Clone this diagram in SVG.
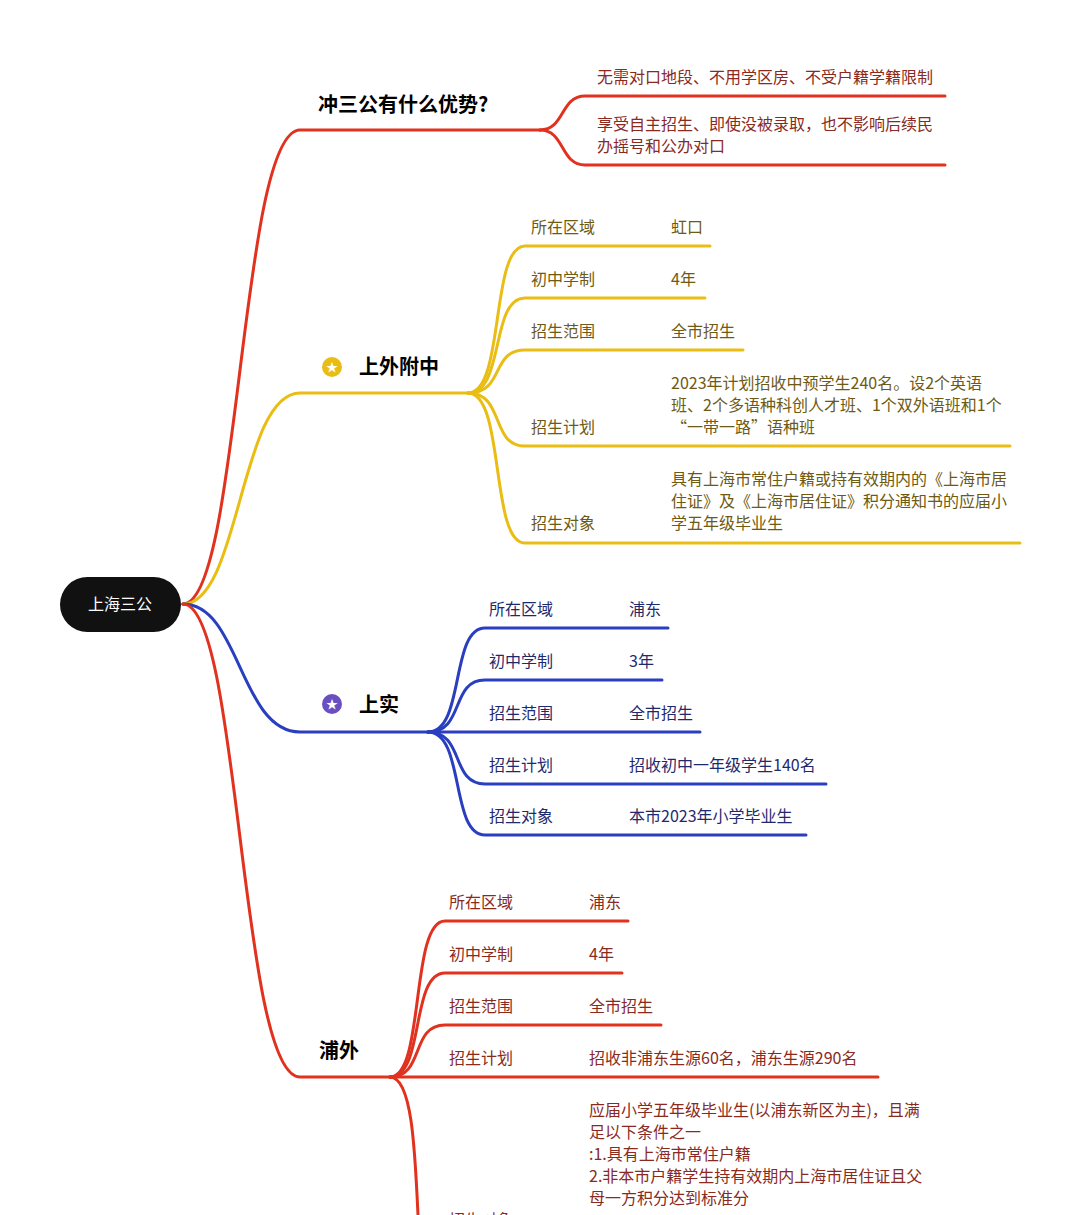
<svg xmlns="http://www.w3.org/2000/svg" width="1080" height="1215" viewBox="0 0 1080 1215">
<style>
.c{fill:none;stroke-width:3;stroke-linecap:round}
.r{stroke:#e0321e}.y{stroke:#eabd14}.b{stroke:#2a3fbf}
text{font-family:"Noto Sans CJK SC","Noto Sans",sans-serif}
.t{font-size:16px}
.tr{fill:#8a2a1e}.ty{fill:#6e5a12}.tb{fill:#1f2a6e}
.h{font-size:20px;font-weight:bold;fill:#000}
</style>
<rect width="1080" height="1215" fill="#fff"/>
<g id="connectors">
<path class="c r" d="M183,604 C240,604 240,130 300,130 H540"/>
<path class="c r" d="M540,130 C565,130 560,96 585,96 H945"/>
<path class="c r" d="M540,130 C565,130 560,165 585,165 H945"/>
<path class="c y" d="M183,604 C240,604 240,393 300,393 H468"/>
<path class="c y" d="M468,393 C505,393 490,246 525,246 H710"/>
<path class="c y" d="M468,393 C505,393 490,298 525,298 H705"/>
<path class="c y" d="M468,393 C505,393 490,350 525,350 H743"/>
<path class="c y" d="M468,393 C505,393 490,446 525,446 H1010"/>
<path class="c y" d="M468,393 C505,393 490,543 525,543 H1020"/>
<path class="c b" d="M183,604 C240,604 240,732 300,732 H428"/>
<path class="c b" d="M428,732 C465,732 450,628 485,628 H668"/>
<path class="c b" d="M428,732 C465,732 450,680 485,680 H662"/>
<path class="c b" d="M428,732 H700"/>
<path class="c b" d="M428,732 C465,732 450,784 485,784 H826"/>
<path class="c b" d="M428,732 C465,732 450,835 485,835 H806"/>
<path class="c r" d="M183,604 C240,604 240,1077 300,1077 H390"/>
<path class="c r" d="M390,1077 C425,1077 410,921 445,921 H628"/>
<path class="c r" d="M390,1077 C425,1077 410,973 445,973 H622"/>
<path class="c r" d="M390,1077 C425,1077 410,1025 445,1025 H661"/>
<path class="c r" d="M390,1077 H878"/>
<path class="c r" d="M390,1077 C412,1077 415,1150 418,1215"/>
</g>
<g id="root"><rect x="60" y="577" width="121" height="55" rx="27.5" fill="#111"/><text x="120" y="610" font-size="16" fill="#fff" text-anchor="middle">上海三公</text></g>
<g id="n1"><text class="h" x="318" y="112">冲三公有什么优势?</text>
<text class="t tr" x="597" y="83">无需对口地段、不用学区房、不受户籍学籍限制</text>
<text class="t tr" x="597" y="130">享受自主招生、即使没被录取，也不影响后续民</text>
<text class="t tr" x="597" y="152">办摇号和公办对口</text></g>
<g id="n2"><circle cx="332" cy="367" r="10" fill="#eabd14"/><text x="332" y="372" font-size="12" fill="#fff" text-anchor="middle">★</text><text class="h" x="359" y="374">上外附中</text>
<text class="t ty" x="531" y="233">所在区域</text><text class="t ty" x="671" y="233">虹口</text>
<text class="t ty" x="531" y="285">初中学制</text><text class="t ty" x="671" y="285">4年</text>
<text class="t ty" x="531" y="337">招生范围</text><text class="t ty" x="671" y="337">全市招生</text>
<text class="t ty" x="531" y="433">招生计划</text>
<text class="t ty" x="671" y="389">2023年计划招收中预学生240名。设2个英语</text>
<text class="t ty" x="671" y="411">班、2个多语种科创人才班、1个双外语班和1个</text>
<text class="t ty" x="671" y="433">“一带一路”语种班</text>
<text class="t ty" x="531" y="529">招生对象</text>
<text class="t ty" x="671" y="485">具有上海市常住户籍或持有效期内的《上海市居</text>
<text class="t ty" x="671" y="507">住证》及《上海市居住证》积分通知书的应届小</text>
<text class="t ty" x="671" y="529">学五年级毕业生</text></g>
<g id="n3"><circle cx="332" cy="704" r="10" fill="#6a4fc0"/><text x="332" y="709" font-size="12" fill="#fff" text-anchor="middle">★</text><text class="h" x="359" y="712">上实</text>
<text class="t tb" x="489" y="615">所在区域</text><text class="t tb" x="629" y="615">浦东</text>
<text class="t tb" x="489" y="667">初中学制</text><text class="t tb" x="629" y="667">3年</text>
<text class="t tb" x="489" y="719">招生范围</text><text class="t tb" x="629" y="719">全市招生</text>
<text class="t tb" x="489" y="771">招生计划</text><text class="t tb" x="629" y="771">招收初中一年级学生140名</text>
<text class="t tb" x="489" y="822">招生对象</text><text class="t tb" x="629" y="822">本市2023年小学毕业生</text></g>
<g id="n4"><text class="h" x="319" y="1058">浦外</text>
<text class="t tr" x="449" y="908">所在区域</text><text class="t tr" x="589" y="908">浦东</text>
<text class="t tr" x="449" y="960">初中学制</text><text class="t tr" x="589" y="960">4年</text>
<text class="t tr" x="449" y="1012">招生范围</text><text class="t tr" x="589" y="1012">全市招生</text>
<text class="t tr" x="449" y="1064">招生计划</text><text class="t tr" x="589" y="1064">招收非浦东生源60名，浦东生源290名</text>
<text class="t tr" x="589" y="1116">应届小学五年级毕业生(以浦东新区为主)，且满</text>
<text class="t tr" x="589" y="1138">足以下条件之一</text>
<text class="t tr" x="589" y="1160">:1.具有上海市常住户籍</text>
<text class="t tr" x="589" y="1182">2.非本市户籍学生持有效期内上海市居住证且父</text>
<text class="t tr" x="589" y="1204">母一方积分达到标准分</text>
<text class="t tr" x="449" y="1226">招生对象</text></g>
</svg>
